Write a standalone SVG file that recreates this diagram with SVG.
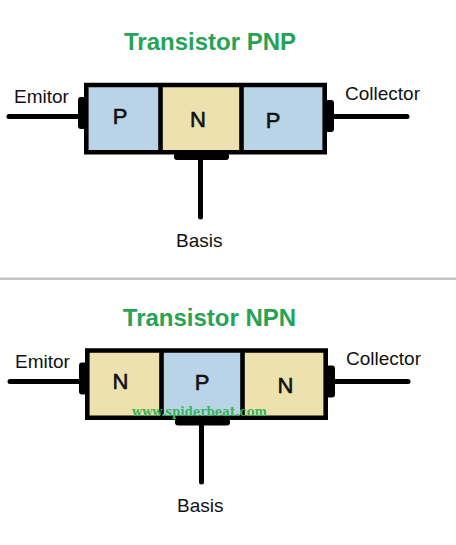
<svg xmlns="http://www.w3.org/2000/svg" width="456" height="545" viewBox="0 0 456 545">
<defs><style>
.title{font:bold 24px "Liberation Sans",Arial,sans-serif;fill:#27a356;text-anchor:middle}
.lab{font:19px "Liberation Sans",Arial,sans-serif;fill:#111}
.seg{font:22px "Liberation Sans",Arial,sans-serif;fill:#111;text-anchor:middle;stroke:#111;stroke-width:.6}
.wire{stroke:#000;stroke-width:5;stroke-linecap:round;fill:none}
.pad{fill:#000}
.blue{fill:#b9d3e7}
.tan{fill:#ede2af}
.edge{fill:none;stroke:#000;stroke-width:4.6}
.wm{font:bold 13px "DejaVu Serif","Liberation Serif",serif;fill:#3cb45a;text-anchor:middle}
</style></defs>
<rect width="456" height="545" fill="#fff"/>
<rect id="separator" x="0" y="277.500" width="456" height="2.500" fill="#c4c4c4"/>
<g id="connectors">
<path class="wire" d="M9 116.500H80M332 116.500H407M200.500 158V217"/>
<path class="wire" d="M10 381.500H81M333 381.500H408M201.500 423V482"/>
</g>
<g id="pnp">
<text class="title" x="210" y="49.500">Transistor PNP</text>
<rect class="blue" x="86" y="85" width="74" height="67"/>
<rect class="tan" x="160" y="85" width="81" height="67"/>
<rect class="blue" x="241" y="85" width="84" height="67"/>
<path class="edge" d="M86.300 85H324.700V152.300H86.300ZM160.500 85V152M241.500 85V152"/>
<rect class="pad" x="78" y="97" width="8" height="32" rx="3"/>
<rect class="pad" x="325" y="100" width="9" height="32" rx="3"/>
<rect class="pad" x="174" y="153" width="55" height="7" rx="3"/>
<text class="seg" x="120" y="124">P</text>
<text class="seg" x="198" y="127">N</text>
<text class="seg" x="273" y="128">P</text>
<text class="lab" x="14" y="102.500">Emitor</text>
<text class="lab" x="345" y="99.500">Collector</text>
<text class="lab" x="176" y="246.500">Basis</text>
</g>
<g id="npn">
<text class="title" x="209.500" y="326">Transistor NPN</text>
<rect class="tan" x="87" y="350.500" width="74" height="67"/>
<rect class="blue" x="161" y="350.500" width="81" height="67"/>
<rect class="tan" x="242" y="350.500" width="84" height="67"/>
<path class="edge" d="M87.300 350.500H325.700V417.800H87.300ZM161.500 350.500V417.500M242.500 350.500V417.500"/>
<rect class="pad" x="79" y="362.500" width="8" height="32" rx="3"/>
<rect class="pad" x="326" y="365.500" width="9" height="32" rx="3"/>
<rect class="pad" x="175" y="418.500" width="55" height="7" rx="3"/>
<text class="seg" x="120.500" y="389">N</text>
<text class="seg" x="202" y="390">P</text>
<text class="seg" x="285.500" y="392.500">N</text>
<text class="lab" x="15" y="368">Emitor</text>
<text class="lab" x="346" y="365">Collector</text>
<text class="lab" x="177" y="512">Basis</text>
</g>
<text id="watermark" class="wm" x="199.500" y="416" textLength="135" lengthAdjust="spacingAndGlyphs">www.spiderbeat.com</text>
</svg>
